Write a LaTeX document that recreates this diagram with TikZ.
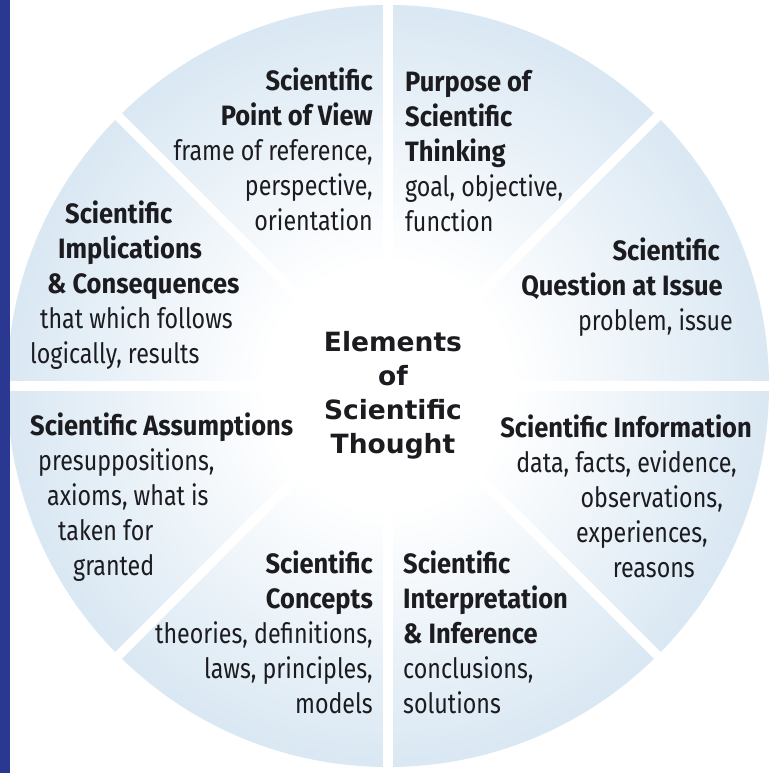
\documentclass[tikz,border=0pt]{standalone}
\usepackage{fontspec}
\usetikzlibrary{calc}
\setmainfont{Fira Sans}[FakeStretch=0.83, BoldFeatures={FakeStretch=0.91}]
\newfontfamily\hubfont{DejaVu Sans}
\definecolor{rimblue}{RGB}{162,197,225}
\definecolor{stripblue}{RGB}{43,56,145}
\definecolor{inkgrey}{RGB}{28,28,32}
\pgfdeclareradialshading{wheelshade}{\pgfpoint{0bp}{0bp}}{%
  color(0bp)=(white); color(8bp)=(white); color(50bp)=(rimblue)}
\tikzset{
  spoke/.style={white, line width=9.5pt},
  sector/.style={inner sep=0pt, text=inkgrey,
    font=\fontsize{28}{34.8}\selectfont},
  hubtext/.style={inner sep=0pt, text=inkgrey, align=center,
    font=\hubfont\bfseries\fontsize{26.5}{33.7}\selectfont}
}
\begin{document}
\begin{tikzpicture}[x=1pt,y=-1pt]
\useasboundingbox (0,0) rectangle (779,773);
\fill[white] (0,0) rectangle (779,773);
\coordinate (hub) at (388,386);
% shaded wheel and the white spokes that split it into eight sectors
\shade[shading=wheelshade] (hub) circle[radius=381];
\foreach \a in {0,45,90,135}
  \draw[spoke] ($(hub)+(\a:392)$) -- ($(hub)+(\a+180:392)$);
% navy band along the left edge
\fill[stripblue] (0,0) rectangle (10,773);

% centre title (anchored on the baseline of its last line)
\node[hubtext, anchor=base] (core) at (393,453) {Elements\\of\\Scientific\\Thought};

% sector labels (each anchored on the baseline of its last line)
\node[sector, align=right, anchor=base east] (view) at (373,230)
  {\textbf{Scientific}\\\textbf{Point of View}\\frame of reference,\\perspective,\\orientation};
\node[sector, align=left, anchor=base west] (purpose) at (405,231)
  {\textbf{Purpose of}\\\textbf{Scientific}\\\textbf{Thinking}\\goal, objective,\\function};
\node[sector, align=right, anchor=base east] (question) at (733,330)
  {\textbf{Scientific}\hspace*{13pt}\null\\\textbf{Question at Issue}\hspace*{10pt}\null\\problem, issue};
\node[sector, align=right, anchor=base east] (information) at (752,577)
  {\textbf{Scientific Information}\\data, facts, evidence,\hspace*{15pt}\null\\observations,\hspace*{29pt}\null\\experiences,\hspace*{44pt}\null\\reasons\hspace*{57pt}\null};
\node[sector, align=left, anchor=base west] (inference) at (403,713)
  {\textbf{Scientific}\\\textbf{Interpretation}\\\textbf{\& Inference}\\conclusions,\\solutions};
\node[sector, align=right, anchor=base east] (concepts) at (373,713)
  {\textbf{Scientific}\\\textbf{Concepts}\\theories, definitions,\\laws, principles,\\models};
\node[sector, align=left, anchor=base west] (assumptions) at (30,575)
  {\textbf{Scientific Assumptions}\\\hspace*{8pt}presuppositions,\\\hspace*{17pt}axioms, what is\\\hspace*{28pt}taken for\\\hspace*{43pt}granted};
\node[sector, align=left, anchor=base west] (implications) at (30,363)
  {\hspace*{35pt}\textbf{Scientific}\\\hspace*{28pt}\textbf{Implications}\\\hspace*{17pt}\textbf{\& Consequences}\\\hspace*{10pt}that which follows\\logically, results};
\end{tikzpicture}
\end{document}
